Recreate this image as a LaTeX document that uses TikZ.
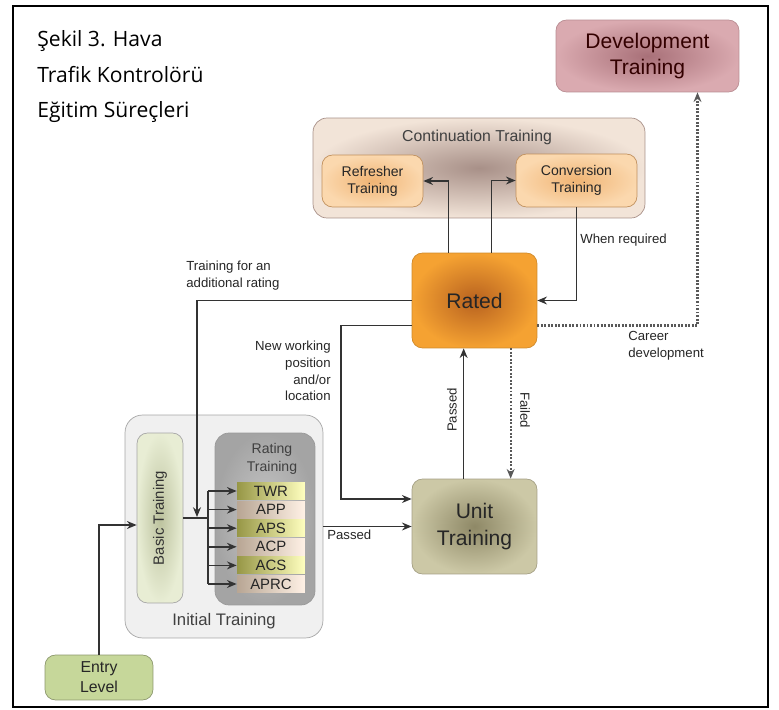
\documentclass[tikz,border=0pt]{standalone}
\usepackage{fontspec}
\setmainfont{Liberation Sans}
\newfontfamily\captionfont{Open Sans}
\usetikzlibrary{arrows.meta,calc}

\definecolor{linegray}{HTML}{333333}
\definecolor{ratedIn}{HTML}{B8621F}
\definecolor{ratedOut}{HTML}{F5A232}
\definecolor{devIn}{HTML}{A87078}
\definecolor{devOut}{HTML}{DAAAB0}
\definecolor{contIn}{HTML}{A89088}
\definecolor{contOut}{HTML}{F2E4D8}
\definecolor{subIn}{HTML}{F0B474}
\definecolor{subOut}{HTML}{FBD8AE}
\definecolor{unitIn}{HTML}{8E8866}
\definecolor{unitOut}{HTML}{CCC8A6}
\definecolor{basicIn}{HTML}{BCC29E}
\definecolor{basicOut}{HTML}{E8EDD4}
\definecolor{ratingIn}{HTML}{C8C8C8}
\definecolor{ratingOut}{HTML}{A4A4A4}
\definecolor{entryFill}{HTML}{C6D79A}

\begin{document}
\begin{tikzpicture}[x=0.02cm,y=-0.02cm,
    >={Stealth[length=5.5pt,width=4.5pt]},
    box/.style={rounded corners=6pt,draw=black!40,align=center,text=black!85,inner sep=1pt},
    stripe/.style={minimum width=1.36cm,minimum height=0.34cm,inner sep=0pt,text=black!85,
                   font=\fontsize{8.5}{10}\selectfont},
    stripeA/.style={left color=black!30!yellow!45!gray,right color=yellow!25},
    stripeB/.style={left color=brown!40!gray!70,right color=red!10!orange!10},
    conn/.style={draw=linegray,line width=0.9pt},
    dots/.style={draw=black!65,line width=1.2pt,dash pattern=on 1.1pt off 0.9pt},
    note/.style={font=\fontsize{7.5}{9.5}\selectfont,text=black!85,inner sep=0pt}]

\useasboundingbox (0,0) rectangle (779,710);
\draw[line width=0.85pt] (13,6) rectangle (768,707);

% caption
\node[anchor=base west,inner sep=0pt,font=\captionfont\fontsize{12}{14}\selectfont] (cap1) at (37,47) {Şekil 3. Hava};
\node[anchor=base west,inner sep=0pt,font=\captionfont\fontsize{12}{14}\selectfont] (cap2) at (37,82) {Trafik Kontrolörü};
\node[anchor=base west,inner sep=0pt,font=\captionfont\fontsize{12}{14}\selectfont] (cap3) at (37,117) {Eğitim Süreçleri};

\begin{scope}[every node/.append style={box}]
    \node[inner color=devIn,outer color=devOut,draw=devIn!80,minimum width=3.66cm,minimum height=1.44cm,
          font=\fontsize{12}{15}\selectfont,text=black!80!red] (dev) at (647.5,56) {Development\\Training};
    \node[inner color=contIn,outer color=contOut,draw=contIn,rounded corners=8pt,
          minimum width=6.64cm,minimum height=2cm] (cont) at (479,168) {};
    \node[inner color=subIn,outer color=subOut,draw=subIn!80!black,minimum width=2.02cm,minimum height=1.04cm,
          font=\fontsize{8}{9.6}\selectfont] (refresher) at (372.5,181) {Refresher\\Training};
    \node[inner color=subIn,outer color=subOut,draw=subIn!80!black,minimum width=2.42cm,minimum height=1.06cm,
          font=\fontsize{8}{9.6}\selectfont] (conversion) at (576.5,180.5) {Conversion\\Training};
    \node[inner color=ratedIn,outer color=ratedOut,draw=ratedOut!85!black,minimum width=2.5cm,minimum height=1.9cm,
          font=\fontsize{12}{15}\selectfont] (rated) at (474.5,300.5) {Rated};
    \node[inner color=unitIn,outer color=unitOut,draw=unitIn!80,minimum width=2.5cm,minimum height=1.9cm,
          font=\fontsize{12}{15}\selectfont] (unit) at (474.5,526.5) {Unit\\Training};
    \node[fill=black!6,draw=black!35,rounded corners=10pt,minimum width=3.96cm,minimum height=4.46cm] (init) at (224,526.5) {};
    \node[inner color=basicIn,outer color=basicOut,draw=black!35,minimum width=0.92cm,minimum height=3.4cm] (basic) at (160,518) {};
    \node[inner color=ratingIn,outer color=ratingOut,draw=black!40,rounded corners=8pt,
          minimum width=2cm,minimum height=3.44cm] (rating) at (265,519) {};
    \node[fill=entryFill,draw=entryFill!70!black,minimum width=2.16cm,minimum height=0.9cm,
          font=\fontsize{9}{11.3}\selectfont] (entry) at (99,677.5) {Entry\\Level};
\end{scope}

\node[text=black!75,font=\fontsize{9}{11}\selectfont] (contTitle) at (477,137) {Continuation Training};
\node[text=black!75,font=\fontsize{9.5}{11}\selectfont] (initTitle) at (224,621) {Initial Training};
\node[rotate=90,text=black!80,font=\fontsize{8.5}{10}\selectfont] (basicTitle) at (160,518) {Basic Training};
\node[align=center,text=black!75,font=\fontsize{8}{10}\selectfont] (ratingTitle) at (272,459) {Rating\\Training};

\foreach \name/\col [count=\i] in {TWR/stripeA,APP/stripeB,APS/stripeA,ACP/stripeB,ACS/stripeA,APRC/stripeB}
    \node[stripe,\col] (r\i) at (271,{491+18.6*(\i-1)}) {\name};

\coordinate (bus) at (208,518);
\coordinate (addjoin) at (197,517);
\coordinate (nwp) at (341,499);

% labels
\node[note,anchor=north west,align=left] (lblAdd) at (186,261) {Training for an\\additional rating};
\node[note,anchor=north east,align=right] (lblNew) at (331,341) {New working\\position\\and/or\\location};
\node[note,anchor=west] (lblReq) at (580,240) {When required};
\node[note,anchor=north west,align=left] (lblCareer) at (628,331) {Career\\development};
\node[note,anchor=west] (lblPassA) at (327,535) {Passed};
\node[note,rotate=90] (lblPassB) at (452,410) {Passed};
\node[note,rotate=-90] (lblFail) at (525,410) {Failed};

% connectors
\draw[conn,->] ($(rated.north west)+(37,0)$) |- (refresher.east);
\draw[conn,->] ($(rated.north west)+(80,0)$) |- (conversion.west);
\draw[draw=linegray,line width=0.6pt,->] (conversion.south) |- (rated.east);
\draw[dots,->] ($(rated.east)+(0,25)$) -| ($(dev.south)+(50,0)$);
\draw[conn,->] (rated.west) -| (addjoin);
\draw[conn,->] ($(rated.west)+(0,25)$) -| (nwp) -- (nwp -| unit.west);
\draw[conn,->] ($(unit.north west)+(52,0)$) -- ($(rated.south west)+(52,0)$);
\draw[dots,->] ($(rated.south west)+(99,0)$) -- ($(unit.north west)+(99,0)$);
\draw[conn,->] (init.east) -- (unit.west);
\draw[conn,->] (entry.north) |- ($(basic.west)+(0,7)$);
\draw[conn] (basic.east) -- (bus);
\draw[conn] (bus |- r1.west) -- (bus |- r6.west);
\foreach \i in {1,...,6}
    \draw[conn,->] (bus |- r\i.west) -- (r\i.west);

\end{tikzpicture}
\end{document}
